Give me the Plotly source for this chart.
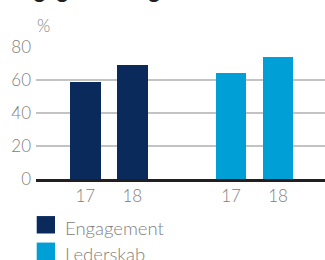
import plotly.graph_objects as go

# ---- data ----
groups = ["Engagement", "Lederskab"]
years = ["17", "18"]
engagement = [59, 69]
lederskab = [64, 74]
y_ticks = [0, 20, 40, 60, 80]
title_text = "Engagement og ledelse"
unit_label = "%"

colors = ["#0a2a5c", "#00a0d6"]
W, H = 325, 260
ML, MR, MT, MB = 36, 0, 47, 80.5
PW, PH = W - ML - MR, H - MT - MB

def px_x(px):
    return (px - ML) / PW

def px_y(py):
    return (H - MB - py) / PH

group_gap = 3.1
series = [engagement, lederskab]
fig = go.Figure()
tickvals, ticktext = [], []
for gi, (name, vals) in enumerate(zip(groups, series)):
    xs = [gi * group_gap + i for i in range(len(vals))]
    tickvals += xs
    ticktext += years
    fig.add_trace(go.Bar(x=xs, y=vals, name=name, width=0.655,
                         marker=dict(color=colors[gi], line=dict(width=0)),
                         showlegend=False))

font_light = dict(family="Lato", size=17, color="#808080", weight=300)

fig.update_layout(
    width=W, height=H,
    margin=dict(l=ML, r=MR, t=MT, b=MB, pad=0, autoexpand=False),
    plot_bgcolor="white", paper_bgcolor="white",
    bargap=0,
    xaxis=dict(range=[-1.05, 5.1], tickvals=tickvals, ticktext=ticktext,
               showgrid=False, zeroline=False, showline=True, automargin=False,
               linecolor="#231f20", linewidth=3, ticks="",
               tickfont=font_light, fixedrange=True),
    yaxis=dict(range=[0, 80], tickvals=y_ticks, showgrid=True, automargin=False,
               gridcolor="#c3c3c3", gridwidth=2, zeroline=False,
               showline=False, ticks="", ticklabelstandoff=4,
               tickfont=font_light, fixedrange=True),
)

annotations = [
    dict(text=unit_label, xref="paper", yref="paper", x=px_x(35), y=px_y(38),
         xanchor="left", yanchor="bottom", showarrow=False, font=font_light),
    dict(text="<b>" + title_text + "</b>", xref="paper", yref="paper",
         x=px_x(7), y=px_y(5), xanchor="left", yanchor="bottom", showarrow=False,
         font=dict(family="Lato", size=22, color="#231f20")),
]
shapes = []
for gi, name in enumerate(groups):
    top = 216.7 + gi * 26.6
    shapes.append(dict(type="rect", xref="paper", yref="paper",
                       x0=px_x(36.7), x1=px_x(55), y0=px_y(top), y1=px_y(top + 17.5),
                       fillcolor=colors[gi], line=dict(width=0)))
    annotations.append(dict(text=name, xref="paper", yref="paper",
                            x=px_x(63), y=px_y(top + 11.5), xanchor="left", yanchor="middle",
                            showarrow=False,
                            font=dict(family="Lato", size=18.5, color="#808080", weight=300)))
fig.update_layout(annotations=annotations, shapes=shapes)

fig.write_html("out.html", config={"displayModeBar": False},
               post_script="document.body.style.margin='0';document.body.style.overflow='hidden';")
